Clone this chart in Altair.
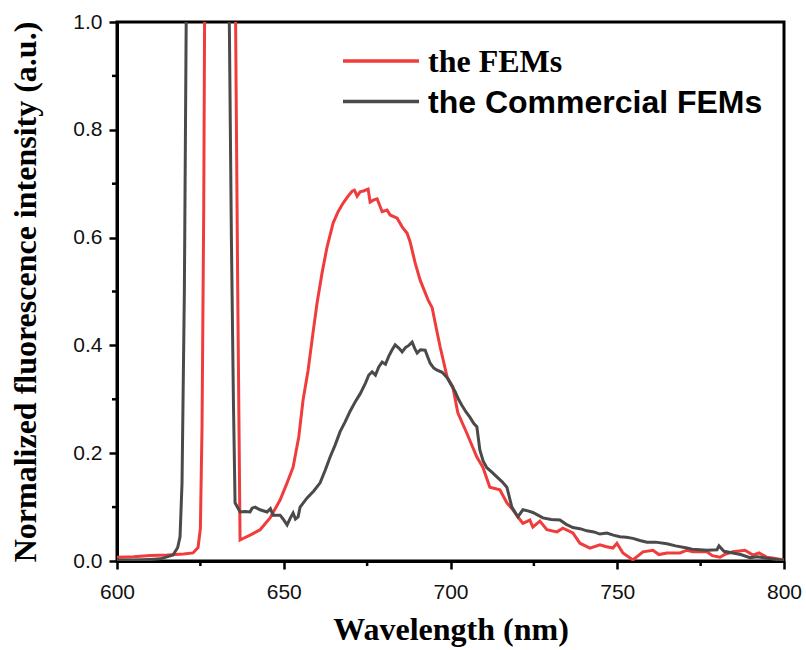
import altair as alt
import pandas as pd

# ---- data ----
fems_wl = [600, 605, 610, 615, 620, 622.8, 624.3, 625.0, 625.5, 626.0, 626.3, 635.5, 636.2, 636.9,
           639.9, 642.9, 645.9, 648.9, 651, 652.8, 654.5, 655.8, 657.3, 658.7, 660, 661.5, 663, 664.8,
           666.3, 667.8, 669.3, 670.5, 671.2, 672, 672.9, 674.1, 675.3, 675.9, 677, 678, 679.5, 681,
           681.9, 684, 685.5, 687, 687.9, 689.4, 690.9, 693.3, 694.5, 695.4, 696.9, 699, 700.7, 702.2,
           704.9, 707.9, 709.7, 711.8, 714.8, 716.9, 718.7, 720.2, 721.7, 723.8, 724.7, 726.8, 728.9,
           731.9, 733.7, 736.7, 738.8, 741.8, 744.8, 746.5, 748.7, 749.9, 751.7, 754.7, 757.7, 760.7,
           762.5, 764.9, 768.8, 770.9, 772.7, 776.9, 778.5, 780.8, 782.5, 784.7, 788.3, 790.7, 792.5,
           794.9, 797, 800]
fems_int = [0.007, 0.008, 0.010, 0.011, 0.013, 0.015, 0.025, 0.06, 0.25, 0.65, 1.05, 1.05, 0.5, 0.039,
            0.048, 0.058, 0.080, 0.113, 0.145, 0.174, 0.23, 0.299, 0.354, 0.42, 0.479, 0.535, 0.583, 0.627,
            0.648, 0.664, 0.677, 0.686, 0.688, 0.677, 0.685, 0.687, 0.690, 0.666, 0.670, 0.672, 0.648, 0.651,
            0.642, 0.636, 0.620, 0.608, 0.592, 0.553, 0.521, 0.484, 0.470, 0.442, 0.397, 0.341, 0.323, 0.275,
            0.237, 0.193, 0.174, 0.137, 0.132, 0.108, 0.095, 0.082, 0.070, 0.076, 0.063, 0.074, 0.058,
            0.054, 0.061, 0.052, 0.033, 0.024, 0.030, 0.027, 0.024, 0.033, 0.015, 0.002, 0.017, 0.020,
            0.012, 0.015, 0.015, 0.020, 0.017, 0.017, 0.010, 0.007, 0.013, 0.017, 0.020, 0.011, 0.015,
            0.007, 0.005, 0.002]

comm_wl = [600, 605, 610, 613, 616.8, 618.2, 618.9, 619.5, 620.2, 620.8, 633.6, 634.3, 634.9, 635.4,
           636.9, 638.4, 639.9, 640.5, 641.4, 642.9, 645, 646, 646.8, 648.9, 649.8, 651, 652, 652.8, 653.5,
           654.3, 654.9, 657, 659, 660.9, 662.4, 663.9, 665.4, 666.9, 668.4, 669.9, 671.4, 672.9, 674.5,
           675.5, 676.5, 677.5, 678.5, 679.5, 680.5, 681.5, 682.5, 683.4, 684.5, 685.5, 686.5, 687.5,
           688.5, 689.3, 690, 691, 692.4, 693.2, 693.9, 695, 696, 697.5, 699, 700.2, 701.4, 702.4, 703.4,
           704.6, 705.8, 707, 707.9, 708.8, 709.8, 710.9, 712.4, 713.9, 715.5, 716.9, 718.4, 720.2, 721.7,
           723.2, 724.7, 726.2, 727.7, 730.2, 732.8, 734.7, 736.7, 738.8, 740.9, 743, 744.8, 746.9, 748.8,
           750.8, 752.7, 754.7, 756.8, 758.9, 761.5, 764.9, 767.5, 770.9, 772.5, 774.8, 777, 779.9, 780.5,
           782, 784.7, 787, 789.8, 792, 794.9, 798.8, 800]
comm_int = [0.002, 0.002, 0.003, 0.004, 0.011, 0.025, 0.045, 0.145, 0.5, 1.05, 1.05, 0.6, 0.3, 0.108,
            0.091, 0.092, 0.091, 0.098, 0.100, 0.095, 0.091, 0.097, 0.085, 0.085, 0.078, 0.067, 0.080, 0.089, 0.078,
            0.082, 0.100, 0.117, 0.130, 0.145, 0.168, 0.193, 0.215, 0.240, 0.258, 0.278, 0.295, 0.310, 0.330,
            0.345, 0.351, 0.345, 0.360, 0.369, 0.365, 0.380, 0.392, 0.401, 0.395, 0.388, 0.396, 0.400,
            0.406, 0.394, 0.386, 0.392, 0.391, 0.378, 0.367, 0.358, 0.354, 0.350, 0.340, 0.327, 0.314, 0.300, 0.289,
            0.277, 0.267, 0.255, 0.249, 0.206, 0.185, 0.173, 0.165, 0.156, 0.147, 0.137, 0.100, 0.082, 0.095,
            0.093, 0.090, 0.085, 0.080, 0.077, 0.076, 0.068, 0.062, 0.060, 0.056, 0.054, 0.050, 0.052, 0.048,
            0.045, 0.044, 0.042, 0.038, 0.035, 0.035, 0.032, 0.028, 0.024, 0.022, 0.021, 0.020, 0.021, 0.028,
            0.018, 0.015, 0.012, 0.006, 0.008, 0.005, 0.002, 0.002]

series_names = ["the FEMs", "the Commercial FEMs"]
series_colors = ["#f03c3c", "#4a4a4a"]

x_ticks = [600, 650, 700, 750, 800]
x_minor = [625, 675, 725, 775]
y_ticks = [0.0, 0.2, 0.4, 0.6, 0.8, 1.0]
y_minor = [0.1, 0.3, 0.5, 0.7, 0.9]

x_title = "Wavelength (nm)"
y_title = "Normalized fluorescence intensity (a.u.)"

# ---- tables ----
df = pd.concat([
    pd.DataFrame({"wl": fems_wl, "inten": fems_int, "series": series_names[0], "order": range(len(fems_wl))}),
    pd.DataFrame({"wl": comm_wl, "inten": comm_int, "series": series_names[1], "order": range(len(comm_wl))}),
])

W, H = 667, 539
xscale = alt.Scale(domain=[600, 800], nice=False, zero=False)
yscale = alt.Scale(domain=[0, 1], nice=False)
x_axis = alt.Axis(values=x_ticks, title=x_title, format="d")
y_axis = alt.Axis(values=y_ticks, title=y_title, format=".1f")

lines = alt.Chart(df).mark_line(clip=True, strokeWidth=3).encode(
    x=alt.X("wl:Q", scale=xscale, axis=x_axis),
    y=alt.Y("inten:Q", scale=yscale, axis=y_axis),
    color=alt.Color("series:N", scale=alt.Scale(domain=series_names, range=series_colors), legend=None),
    detail="series:N",
    order="order:Q",
)

xminor = alt.Chart(pd.DataFrame({"v": x_minor})).mark_rule(color="black", strokeWidth=2.5).encode(
    x=alt.X("v:Q", scale=xscale, axis=x_axis),
    y=alt.value(H), y2=alt.value(H + 5),
)
yminor = alt.Chart(pd.DataFrame({"v": y_minor})).mark_rule(color="black", strokeWidth=2.5).encode(
    y=alt.Y("v:Q", scale=yscale, axis=y_axis),
    x=alt.value(0), x2=alt.value(-5),
)

legend_layers = []
for i, (name, col) in enumerate(zip(series_names, series_colors)):
    ly = 39 + 40.5 * i
    ldf = pd.DataFrame({"label": [name]})
    legend_layers.append(
        alt.Chart(ldf).mark_rule(color=col, strokeWidth=3.5).encode(
            x=alt.value(226), x2=alt.value(302), y=alt.value(ly))
    )
    legend_layers.append(
        alt.Chart(ldf).mark_text(
            align="left", baseline="alphabetic", fontSize=32, fontWeight="bold",
            font="Liberation Serif" if i == 0 else "Liberation Sans", color="black",
        ).encode(x=alt.value(311), y=alt.value(ly + 11), text="label:N")
    )

chart = alt.layer(lines, xminor, yminor, *legend_layers).properties(
    width=W, height=H,
    autosize=alt.AutoSizeParams(type="none"),
    padding={"left": 117, "top": 22, "right": 806 - 117 - W, "bottom": 650 - 22 - H},
).configure_view(
    stroke="black", strokeWidth=3,
).configure_axis(
    grid=False,
    domainColor="black", domainWidth=3,
    tickColor="black", tickWidth=2.5, tickSize=8,
    labelFont="Liberation Sans", labelFontSize=21, labelColor="#111",
    titleFont="Liberation Serif", titleFontSize=32, titleFontWeight="bold", titleColor="black",
).configure_axisX(
    labelFlush=False, labelPadding=12, titlePadding=12,
).configure_axisY(
    labelPadding=7, titlePadding=30,
)

chart.save("out.html", embed_options={"renderer": "svg", "actions": False})
